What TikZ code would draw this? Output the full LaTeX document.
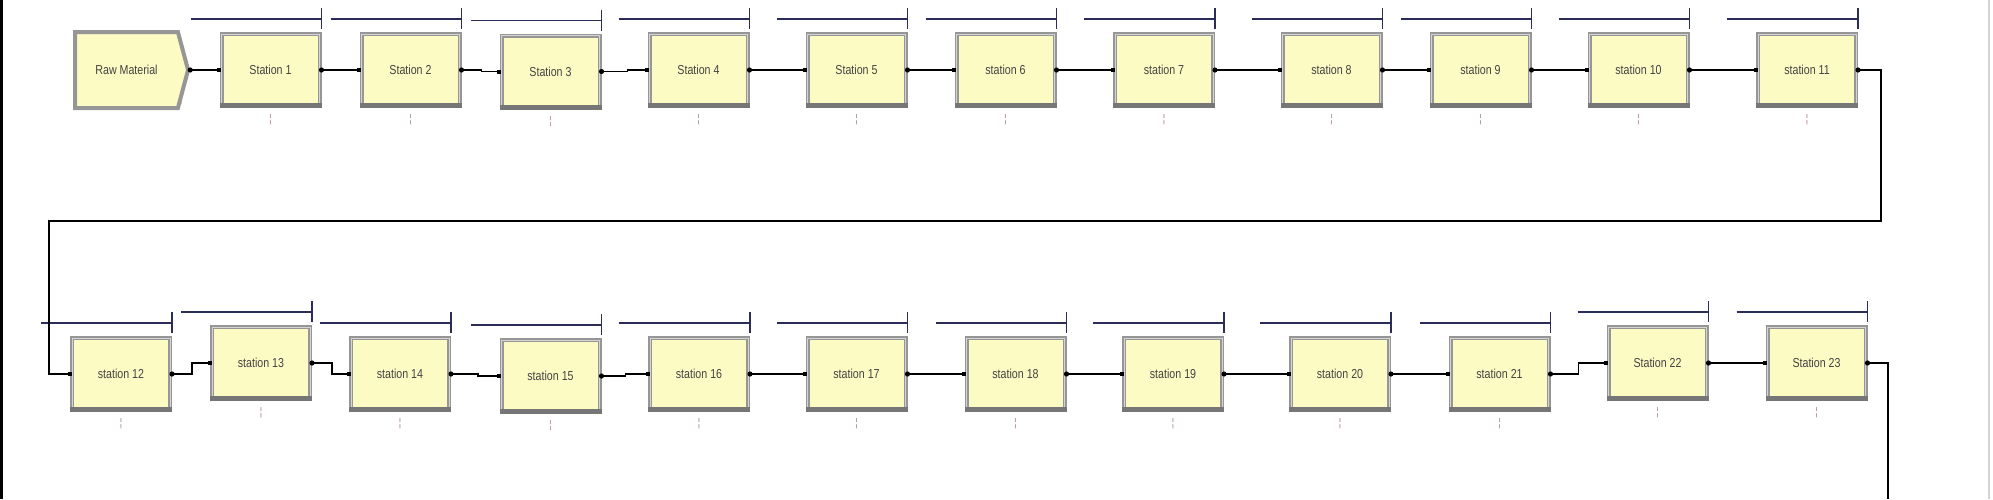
\documentclass[tikz,border=0pt]{standalone}
\usepackage{fontspec}
\setmainfont{Liberation Sans}
\usetikzlibrary{calc,shapes.symbols}
\definecolor{boxfill}{RGB}{253,251,196}
\definecolor{framegray}{RGB}{150,150,150}
\definecolor{framedark}{RGB}{118,118,118}
\definecolor{framelight}{RGB}{212,212,212}
\definecolor{barcol}{RGB}{44,44,88}
\definecolor{textcol}{RGB}{66,66,66}
\definecolor{markcol}{RGB}{180,145,145}
\newcommand{\stlabel}[1]{\scalebox{0.82}[1]{#1}}
\tikzset{
  stn/.style={rectangle, fill=boxfill, draw=framegray, line width=4pt,
    minimum width=98pt, minimum height=72pt, inner sep=0pt, outer sep=2pt,
    text=textcol, font=\fontsize{13}{13}\selectfont},
  conn/.style={line width=1.6pt, black},
  barline/.style={line width=1.8pt, barcol},
  cnt/.style={text=markcol, font=\fontsize{11}{11}\selectfont, inner sep=0pt},
}
\begin{document}
\begin{tikzpicture}[x=1pt,y=-1pt]
\fill[white] (0,0) rectangle (1993,499);
\useasboundingbox (0,0) rectangle (1993,499);
\fill[black] (0,0) rectangle (3,499);
\draw[framelight, line width=1.5pt] (1989,0) -- (1989,499);

% create module
\node[stn, signal, signal to=east, signal pointer angle=150, minimum width=113pt, minimum height=76pt] (raw) at (126.5,70) {\stlabel{Raw Material}};
\node[cnt] (mraw) at (181,100) {¦};

% top row
\node[stn] (s1) at (270.5,70) {\stlabel{Station 1}};
\node[stn] (s2) at (410.5,70) {\stlabel{Station 2}};
\node[stn] (s3) at (550.5,71.5) {\stlabel{Station 3}};
\node[stn] (s4) at (698.5,70) {\stlabel{Station 4}};
\node[stn] (s5) at (856.5,70) {\stlabel{Station 5}};
\node[stn] (s6) at (1005.5,70) {\stlabel{station 6}};
\node[stn] (s7) at (1164,70) {\stlabel{station 7}};
\node[stn] (s8) at (1331.5,70) {\stlabel{station 8}};
\node[stn] (s9) at (1480.5,70) {\stlabel{station 9}};
\node[stn] (s10) at (1638.5,70) {\stlabel{station 10}};
\node[stn] (s11) at (1807,70) {\stlabel{station 11}};

% bottom row
\node[stn] (s12) at (121,374) {\stlabel{station 12}};
\node[stn] (s13) at (261,363) {\stlabel{station 13}};
\node[stn] (s14) at (400,374) {\stlabel{station 14}};
\node[stn] (s15) at (550.5,376) {\stlabel{station 15}};
\node[stn] (s16) at (699,374) {\stlabel{station 16}};
\node[stn] (s17) at (856.5,374) {\stlabel{station 17}};
\node[stn] (s18) at (1015.5,374) {\stlabel{station 18}};
\node[stn] (s19) at (1173,374) {\stlabel{station 19}};
\node[stn] (s20) at (1340,374) {\stlabel{station 20}};
\node[stn] (s21) at (1499.5,374) {\stlabel{station 21}};
\node[stn] (s22) at (1657.5,363) {\stlabel{Station 22}};
\node[stn] (s23) at (1816.5,363) {\stlabel{Station 23}};

% bevel details, resource bars, count marks
\foreach \n in {s1,s2,s3,s4,s5,s6,s7,s8,s9,s10,s11,s12,s13,s14,s15,s16,s17,s18,s19,s20,s21,s22,s23}{
  \draw[framelight, line width=0.9pt] ($(\n.north west)+(2,2)$) rectangle ($(\n.south east)+(-2,-2)$);
  \fill[framedark] ($(\n.south west)+(0,-5)$) rectangle (\n.south east);
  \draw[barline] ($(\n.north east)+(-131,-13)$) -- ($(\n.north east)+(0,-13)$);
  \draw[barline] ($(\n.north east)+(0,-24)$) -- ($(\n.north east)+(0,-3)$);
  \node[cnt] (m\n) at ($(\n.south)+(0,12)$) {¦};
}

% straight connectors
\foreach \a/\b in {raw/s1,s1/s2,s4/s5,s5/s6,s6/s7,s7/s8,s8/s9,s9/s10,s10/s11,
  s16/s17,s17/s18,s18/s19,s19/s20,s20/s21,s22/s23}{
  \draw[conn] (\a.east) -- (\b.west);
}
% connectors with a step
\draw[conn] (s2.east) -- ++(20,0) |- (s3.west);
\draw[conn] (s3.east) -- ++(26,0) |- (s4.west);
\draw[conn] (s12.east) -- ++(20,0) |- (s13.west);
\draw[conn] (s13.east) -- ++(20,0) |- (s14.west);
\draw[conn] (s14.east) -- ++(27,0) |- (s15.west);
\draw[conn] (s15.east) -- ++(24,0) |- (s16.west);
\draw[conn] (s21.east) -- ++(28,0) |- (s22.west);
% wrap-around and exit
\coordinate (loopR) at (1881,221);
\coordinate (loopL) at (49,221);
\draw[conn] (s11.east) -| (loopR) -- (loopL) |- (s12.west);
\coordinate (outend) at (1888,499);
\draw[conn] (s23.east) -| (outend);

% connection markers
\foreach \n in {raw,s1,s2,s3,s4,s5,s6,s7,s8,s9,s10,s11,s12,s13,s14,s15,s16,s17,s18,s19,s20,s21,s22,s23}{
  \fill[black] (\n.east) circle (2.6);
}
\foreach \n in {s1,s2,s3,s4,s5,s6,s7,s8,s9,s10,s11,s12,s13,s14,s15,s16,s17,s18,s19,s20,s21,s22,s23}{
  \fill[black] ($(\n.west)+(-2.5,-2)$) rectangle ++(4,4);
}
\end{tikzpicture}
\end{document}
